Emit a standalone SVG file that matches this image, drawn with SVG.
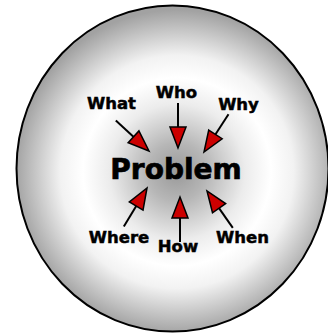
<svg xmlns="http://www.w3.org/2000/svg" width="328" height="333" viewBox="0 0 328 333">
<defs>
<radialGradient id="bg" gradientUnits="userSpaceOnUse" cx="177" cy="172" r="162">
<stop offset="0" stop-color="#999999"/>
<stop offset="0.18" stop-color="#b6b6b6"/>
<stop offset="0.42" stop-color="#ececec"/>
<stop offset="0.58" stop-color="#ffffff"/>
<stop offset="0.72" stop-color="#f2f2f2"/>
<stop offset="1" stop-color="#a2a2a2"/>
</radialGradient>
<g id="arr">
<line x1="0" y1="-45" x2="0" y2="-20" stroke="#000" stroke-width="2"/>
<polygon points="-8,-21 8,-21 0,0" fill="#cc0000" stroke="#000" stroke-width="1.5" stroke-linejoin="miter"/>
</g>
<style>
.lbl{font-family:"DejaVu Sans",Verdana,sans-serif;font-weight:bold;font-size:16.5px;fill:#000;stroke:#000;stroke-width:0.5px}
.main{font-family:"DejaVu Sans",Verdana,sans-serif;font-weight:bold;font-size:28px;fill:#000;stroke:#000;stroke-width:0.7px}
</style>
</defs>
<rect width="328" height="333" fill="#fff"/>
<g id="circle">
<ellipse cx="172.5" cy="168.5" rx="156" ry="163" fill="url(#bg)" stroke="#000" stroke-width="2"/>
</g>
<g id="connectors">
<use href="#arr" transform="translate(149,151) rotate(-47.5)"/>
<use href="#arr" transform="translate(178,148)"/>
<use href="#arr" transform="translate(204,152) rotate(33)"/>
<use href="#arr" transform="translate(147,188) rotate(-149)"/>
<use href="#arr" transform="translate(180,197) rotate(180)"/>
<use href="#arr" transform="translate(207,191) rotate(145)"/>
</g>
<g id="problem"><text class="main" x="176" y="179" text-anchor="middle">Problem</text></g>
<g id="what"><text class="lbl" x="111.5" y="109" text-anchor="middle">What</text></g>
<g id="who"><text class="lbl" x="176.5" y="98" text-anchor="middle">Who</text></g>
<g id="why"><text class="lbl" x="238.5" y="110" text-anchor="middle">Why</text></g>
<g id="where"><text class="lbl" x="119" y="243" text-anchor="middle">Where</text></g>
<g id="how"><text class="lbl" x="178" y="252" text-anchor="middle">How</text></g>
<g id="when"><text class="lbl" x="242.5" y="243" text-anchor="middle">When</text></g>
</svg>
